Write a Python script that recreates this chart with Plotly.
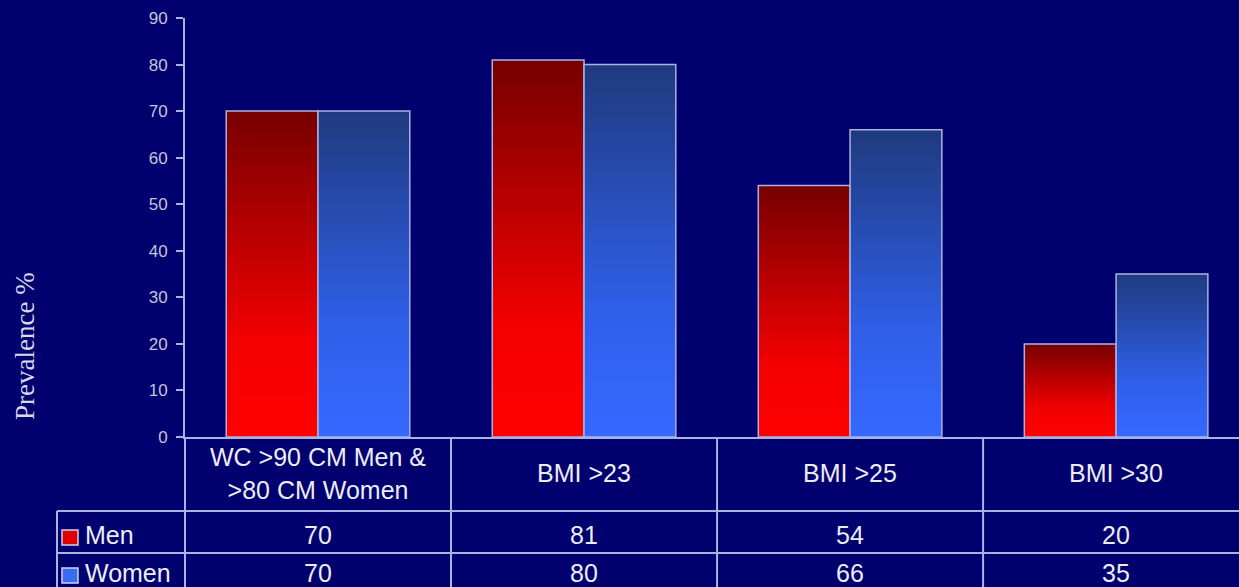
import plotly.graph_objects as go

# ---------------- data ----------------
categories = ["WC >90 CM Men &<br>>80 CM Women", "BMI >23", "BMI >25", "BMI >30"]
men = [70, 81, 54, 20]
women = [70, 80, 66, 35]
series_names = ["Men", "Women"]
y_ticks = [0, 10, 20, 30, 40, 50, 60, 70, 80, 90]
y_title = "Prevalence %"

# ---------------- style ----------------
BG = "#00006e"
LINE = "#aab2e2"
TICK_TXT = "#c4c4d8"
TXT = "#ececf4"
RED_CS = [[0, "#ff0000"], [0.3, "#f20000"], [1, "#760000"]]
BLUE_CS = [[0, "#3568ff"], [0.35, "#2f5fe8"], [1, "#1f3a7e"]]
ICON_COL = ["#e00000", "#3a6cf0"]

W, H = 1239, 587
L, R, T, B = 185, 0, 18, 150
XR = [-0.5, 3.462]
BAR_W = 0.345
PW, PH = W - L - R, H - T - B


def py(p):
    return (H - B - p) / PH


def px(p):
    return (p - L) / PW


def dx(v):
    return (v - XR[0]) / (XR[1] - XR[0])


fig = go.Figure()

for s_idx, (name, vals, cs) in enumerate(zip(series_names, [men, women], [RED_CS, BLUE_CS])):
    for i, v in enumerate(vals):
        x0 = i - BAR_W if s_idx == 0 else i
        x1 = x0 + BAR_W
        fig.add_trace(go.Scatter(
            x=[x0, x0, x1, x1, x0], y=[0, v, v, 0, 0],
            mode="lines", fill="toself",
            fillgradient=dict(type="vertical", colorscale=cs, start=0, stop=v),
            line=dict(color=LINE, width=1.5),
            name=name, legendgroup=name, showlegend=False,
            hoveron="fills", text=f"{name}: {v}", hoverinfo="text",
        ))

shapes = []
annotations = []
lw = 2
# vertical table lines
shapes.append(dict(type="line", xref="paper", yref="paper", x0=0, x1=0, y0=0, y1=py(H),
                   line=dict(color=LINE, width=lw)))
for i in range(len(categories) - 1):
    xb = dx(i + 0.5)
    shapes.append(dict(type="line", xref="paper", yref="paper", x0=xb, x1=xb, y0=0, y1=py(H),
                       line=dict(color=LINE, width=lw)))
# horizontal table lines
for p in (511, 553):
    shapes.append(dict(type="line", xref="paper", yref="paper", x0=px(57), x1=1, y0=py(p), y1=py(p),
                       line=dict(color=LINE, width=lw)))
shapes.append(dict(type="line", xref="paper", yref="paper", x0=px(57), x1=px(57), y0=py(511), y1=py(H),
                   line=dict(color=LINE, width=lw)))

FONT = "Liberation Sans, Arial"
TS = 25
# header texts
for i, c in enumerate(categories):
    annotations.append(dict(x=i, xref="x", y=py(473), yref="paper", text=c, showarrow=False,
                            xanchor="center", yanchor="middle",
                            font=dict(family=FONT, size=TS, color=TXT)))
# value rows
for r, (name, vals) in enumerate(zip(series_names, [men, women])):
    yc = py([535, 573][r])
    for i, v in enumerate(vals):
        annotations.append(dict(x=i, xref="x", y=yc, yref="paper", text=str(v), showarrow=False,
                                xanchor="center", yanchor="middle",
                                font=dict(family=FONT, size=TS, color=TXT)))
    annotations.append(dict(x=px(83), xref="paper", y=yc, yref="paper", text=name, showarrow=False,
                            xanchor="left", yanchor="middle",
                            font=dict(family=FONT, size=TS, color=TXT)))
    top = [530, 568][r]
    shapes.append(dict(type="rect", xref="paper", yref="paper", x0=px(62), x1=px(78),
                       y0=py(top + 15), y1=py(top), fillcolor=ICON_COL[r],
                       line=dict(color="#d0d4f0", width=1.5)))

# y title
annotations.append(dict(x=px(25), xref="paper", y=py(346), yref="paper", text=y_title,
                        textangle=-90, showarrow=False, xanchor="center", yanchor="middle",
                        font=dict(family="Liberation Serif, Times New Roman", size=27, color="#d8d8e8")))

fig.update_layout(
    width=W, height=H,
    margin=dict(l=L, r=R, t=T, b=B, pad=0),
    paper_bgcolor=BG, plot_bgcolor=BG,
    showlegend=False,
    shapes=shapes, annotations=annotations,
    xaxis=dict(range=XR, showgrid=False, zeroline=False, showline=True, linecolor=LINE, linewidth=2,
               showticklabels=False, ticks="", automargin=False, fixedrange=True),
    yaxis=dict(range=[0, 90], tickvals=y_ticks, showgrid=False, zeroline=False, showline=True,
               linecolor=LINE, linewidth=2, ticks="outside", ticklen=7, tickcolor=LINE, tickwidth=1.5,
               ticklabelstandoff=5,
               tickfont=dict(family=FONT, size=17, color=TICK_TXT),
               automargin=False, fixedrange=True),
)

fig.write_html("out.html")
